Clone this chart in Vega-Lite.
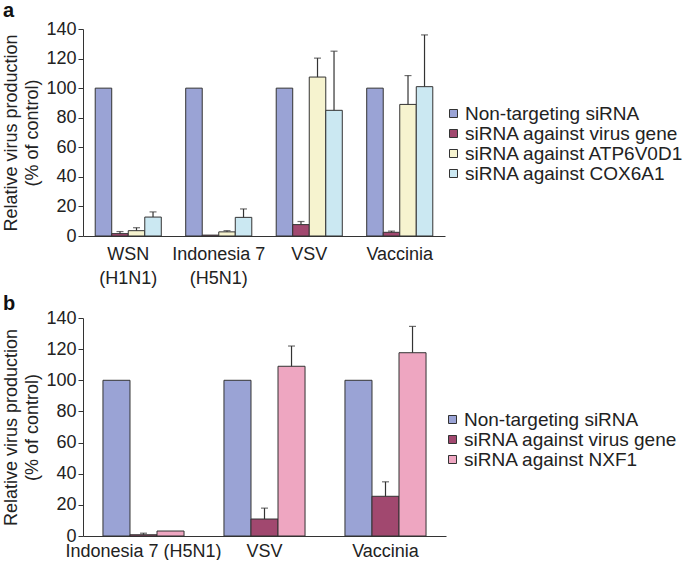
{
  "$schema": "https://vega.github.io/schema/vega-lite/v6.json",
  "background": "white",
  "padding": {"left": 2, "top": 1, "right": 0, "bottom": 0},
  "spacing": 7,
  "config": {
    "font": "Liberation Sans",
    "view": {"stroke": null},
    "axis": {
      "domainColor": "#333",
      "tickColor": "#333",
      "labelColor": "#222",
      "titleColor": "#222",
      "labelFontSize": 18,
      "titleFontSize": 18,
      "titleFontWeight": "normal",
      "labelOverlap": false,
      "grid": false
    },
    "legend": {
      "labelFontSize": 19,
      "labelColor": "#222",
      "symbolType": "square",
      "symbolSize": 64,
      "symbolStrokeColor": "#333",
      "symbolStrokeWidth": 1,
      "symbolOpacity": 1,
      "labelLimit": 400,
      "rowPadding": -1,
      "labelOffset": 2
    },
    "title": {"fontSize": 20, "fontWeight": "bold", "anchor": "start", "frame": "bounds", "color": "#111"}
  },
  "datasets": {
    "a": [
      {"virus": "WSN|(H1N1)", "sirna": "Non-targeting siRNA", "value": 100, "upper": null},
      {"virus": "WSN|(H1N1)", "sirna": "siRNA against virus gene", "value": 1.6, "upper": 3.0},
      {"virus": "WSN|(H1N1)", "sirna": "siRNA against ATP6V0D1", "value": 3.6, "upper": 5.6},
      {"virus": "WSN|(H1N1)", "sirna": "siRNA against COX6A1", "value": 12.8, "upper": 16.3},
      {"virus": "Indonesia 7|(H5N1)", "sirna": "Non-targeting siRNA", "value": 100, "upper": null},
      {"virus": "Indonesia 7|(H5N1)", "sirna": "siRNA against virus gene", "value": 0.6, "upper": null},
      {"virus": "Indonesia 7|(H5N1)", "sirna": "siRNA against ATP6V0D1", "value": 2.8, "upper": 3.6},
      {"virus": "Indonesia 7|(H5N1)", "sirna": "siRNA against COX6A1", "value": 12.6, "upper": 18.3},
      {"virus": "VSV", "sirna": "Non-targeting siRNA", "value": 100, "upper": null},
      {"virus": "VSV", "sirna": "siRNA against virus gene", "value": 7.7, "upper": 9.8},
      {"virus": "VSV", "sirna": "siRNA against ATP6V0D1", "value": 107.5, "upper": 120.3},
      {"virus": "VSV", "sirna": "siRNA against COX6A1", "value": 85, "upper": 125},
      {"virus": "Vaccinia", "sirna": "Non-targeting siRNA", "value": 100, "upper": null},
      {"virus": "Vaccinia", "sirna": "siRNA against virus gene", "value": 2.5, "upper": 3.3},
      {"virus": "Vaccinia", "sirna": "siRNA against ATP6V0D1", "value": 89, "upper": 108.5},
      {"virus": "Vaccinia", "sirna": "siRNA against COX6A1", "value": 101, "upper": 136}
    ],
    "b": [
      {"virus": "Indonesia 7 (H5N1)", "sirna": "Non-targeting siRNA", "value": 100, "upper": null},
      {"virus": "Indonesia 7 (H5N1)", "sirna": "siRNA against virus gene", "value": 0.8, "upper": 1.8},
      {"virus": "Indonesia 7 (H5N1)", "sirna": "siRNA against NXF1", "value": 3.2, "upper": null},
      {"virus": "VSV", "sirna": "Non-targeting siRNA", "value": 100, "upper": null},
      {"virus": "VSV", "sirna": "siRNA against virus gene", "value": 10.9, "upper": 17.9},
      {"virus": "VSV", "sirna": "siRNA against NXF1", "value": 109, "upper": 122},
      {"virus": "Vaccinia", "sirna": "Non-targeting siRNA", "value": 100, "upper": null},
      {"virus": "Vaccinia", "sirna": "siRNA against virus gene", "value": 25.5, "upper": 34.8},
      {"virus": "Vaccinia", "sirna": "siRNA against NXF1", "value": 117.7, "upper": 134.6}
    ]
  },
  "resolve": {"scale": {"color": "independent", "x": "independent", "xOffset": "independent", "y": "independent"}, "legend": {"color": "independent"}},
  "vconcat": [
    {
      "title": {"text": "a", "offset": -1},
      "width": 362,
      "height": 207,
      "data": {"name": "a"},
      "encoding": {
        "x": {
          "field": "virus", "type": "nominal", "sort": null,
          "scale": {"paddingInner": 0.27, "paddingOuter": 0.135},
          "axis": {"title": null, "labelAngle": 0, "ticks": false, "labelPadding": 9, "labelExpr": "split(datum.label, '|')", "labelLineHeight": 24}
        },
        "xOffset": {"field": "sirna", "type": "nominal", "sort": null}
      },
      "layer": [
        {
          "mark": {"type": "bar", "stroke": "#333", "strokeWidth": 1},
          "encoding": {
            "y": {
              "field": "value", "type": "quantitative",
              "scale": {"domain": [0, 140], "nice": false},
              "axis": {"title": ["Relative virus production", "(% of control)"], "titleLineHeight": 21, "titlePadding": 4, "values": [0, 20, 40, 60, 80, 100, 120, 140], "labelOverlap": false, "labelFlush": false, "tickSize": 5, "labelPadding": 2}
            },
            "color": {
              "field": "sirna", "type": "nominal", "sort": null,
              "scale": {"domain": ["Non-targeting siRNA", "siRNA against virus gene", "siRNA against ATP6V0D1", "siRNA against COX6A1"], "range": ["#9aa3d5", "#a1486f", "#f6f3cf", "#cbe8f2"]},
              "legend": {"title": null, "orient": "none", "legendX": 361, "legendY": 75}
            }
          }
        },
        {
          "transform": [{"filter": "isValid(datum.upper)"}],
          "mark": {"type": "rule", "color": "#333", "strokeWidth": 1.2},
          "encoding": {
            "y": {"field": "value", "type": "quantitative",
              "axis": {"title": ["Relative virus production", "(% of control)"], "titleLineHeight": 21, "titlePadding": 4, "values": [0, 20, 40, 60, 80, 100, 120, 140], "labelOverlap": false, "labelFlush": false, "tickSize": 5, "labelPadding": 2}},
            "y2": {"field": "upper"}
          }
        },
        {
          "transform": [{"filter": "isValid(datum.upper)"}],
          "mark": {"type": "tick", "orient": "horizontal", "color": "#333", "size": 7, "thickness": 1.2},
          "encoding": {
            "y": {"field": "upper", "type": "quantitative",
              "axis": {"title": ["Relative virus production", "(% of control)"], "titleLineHeight": 21, "titlePadding": 4, "values": [0, 20, 40, 60, 80, 100, 120, 140], "labelOverlap": false, "labelFlush": false, "tickSize": 5, "labelPadding": 2}}
          }
        }
      ]
    },
    {
      "title": {"text": "b", "offset": -5},
      "width": 363,
      "height": 218,
      "data": {"name": "b"},
      "encoding": {
        "x": {
          "field": "virus", "type": "nominal", "sort": null,
          "scale": {"paddingInner": 0.33, "paddingOuter": 0.165},
          "axis": {"title": null, "labelAngle": 0, "ticks": false, "labelPadding": 6}
        },
        "xOffset": {"field": "sirna", "type": "nominal", "sort": null}
      },
      "layer": [
        {
          "mark": {"type": "bar", "stroke": "#333", "strokeWidth": 1},
          "encoding": {
            "y": {
              "field": "value", "type": "quantitative",
              "scale": {"domain": [0, 140], "nice": false},
              "axis": {"title": ["Relative virus production", "(% of control)"], "titleLineHeight": 21, "titlePadding": 4, "values": [0, 20, 40, 60, 80, 100, 120, 140], "labelOverlap": false, "labelFlush": false, "tickSize": 5, "labelPadding": 2}
            },
            "color": {
              "field": "sirna", "type": "nominal", "sort": null,
              "scale": {"domain": ["Non-targeting siRNA", "siRNA against virus gene", "siRNA against NXF1"], "range": ["#9aa3d5", "#a1486f", "#eea6c1"]},
              "legend": {"title": null, "orient": "none", "legendX": 360, "legendY": 92}
            }
          }
        },
        {
          "transform": [{"filter": "isValid(datum.upper)"}],
          "mark": {"type": "rule", "color": "#333", "strokeWidth": 1.2},
          "encoding": {
            "y": {"field": "value", "type": "quantitative",
              "axis": {"title": ["Relative virus production", "(% of control)"], "titleLineHeight": 21, "titlePadding": 4, "values": [0, 20, 40, 60, 80, 100, 120, 140], "labelOverlap": false, "labelFlush": false, "tickSize": 5, "labelPadding": 2}},
            "y2": {"field": "upper"}
          }
        },
        {
          "transform": [{"filter": "isValid(datum.upper)"}],
          "mark": {"type": "tick", "orient": "horizontal", "color": "#333", "size": 7, "thickness": 1.2},
          "encoding": {
            "y": {"field": "upper", "type": "quantitative",
              "axis": {"title": ["Relative virus production", "(% of control)"], "titleLineHeight": 21, "titlePadding": 4, "values": [0, 20, 40, 60, 80, 100, 120, 140], "labelOverlap": false, "labelFlush": false, "tickSize": 5, "labelPadding": 2}}
          }
        }
      ]
    }
  ]
}
